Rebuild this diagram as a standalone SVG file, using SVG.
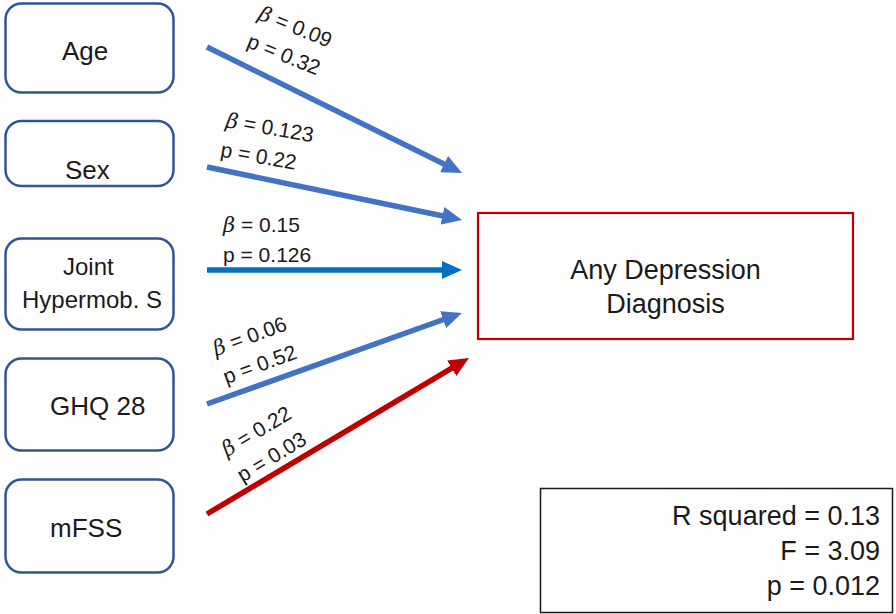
<svg xmlns="http://www.w3.org/2000/svg" width="896" height="614" viewBox="0 0 896 614">
  <style>
    .var { fill: #ffffff; stroke: #2F5597; stroke-width: 2.5; }
    .lbl { font-family: "Liberation Sans", Arial, sans-serif; fill: #1a1a1a; }
    .big { font-size: 26px; }
    .mid { font-size: 24px; }
    .fit { font-size: 27px; }
    .coef { font-family: "Liberation Sans", Arial, sans-serif; font-size: 21px; fill: #1a1a1a; }
    .beta { font-family: "DejaVu Serif", "Liberation Serif", serif; font-style: italic; }
    .edge { fill: none; stroke-width: 5.5; }
  </style>
  <defs>
    <marker id="headBlue" viewBox="0 0 20 18" refX="2" refY="9" markerWidth="20" markerHeight="18" markerUnits="userSpaceOnUse" orient="auto">
      <path d="M0,0 L20,9 L0,18 z" fill="#4472C4"/>
    </marker>
    <marker id="headSky" viewBox="0 0 20 18" refX="2" refY="9" markerWidth="20" markerHeight="18" markerUnits="userSpaceOnUse" orient="auto">
      <path d="M0,0 L20,9 L0,18 z" fill="#0070C0"/>
    </marker>
    <marker id="headRed" viewBox="0 0 20 18" refX="2" refY="9" markerWidth="20" markerHeight="18" markerUnits="userSpaceOnUse" orient="auto">
      <path d="M0,0 L20,9 L0,18 z" fill="#C00000"/>
    </marker>
  </defs>

  <!-- predictor nodes -->
  <g id="age">
    <rect class="var" x="5.5" y="3.5" width="168" height="89" rx="16"/>
    <text class="lbl big" x="62" y="60">Age</text>
  </g>
  <g id="sex">
    <rect class="var" x="5.5" y="121" width="168" height="65" rx="16"/>
    <text class="lbl big" x="65" y="179">Sex</text>
  </g>
  <g id="joint">
    <rect class="var" x="5.5" y="238.5" width="168" height="91" rx="16"/>
    <text class="lbl mid" x="63" y="275">Joint</text>
    <text class="lbl mid" x="22" y="308">Hypermob. S</text>
  </g>
  <g id="ghq">
    <rect class="var" x="5.5" y="358.5" width="168" height="92" rx="16"/>
    <text class="lbl big" x="50" y="415">GHQ 28</text>
  </g>
  <g id="mfss">
    <rect class="var" x="5.5" y="479.5" width="168" height="93" rx="16"/>
    <text class="lbl big" x="50" y="537">mFSS</text>
  </g>

  <!-- outcome node -->
  <g id="depression">
    <rect x="478" y="213" width="375" height="126" fill="#ffffff" stroke="#C00000" stroke-width="2.2"/>
    <text class="lbl" font-size="27" x="665.5" y="279" text-anchor="middle">Any Depression</text>
    <text class="lbl" font-size="27" x="665.5" y="313" text-anchor="middle">Diagnosis</text>
  </g>

  <!-- model fit summary -->
  <g id="model-fit">
    <rect x="540.5" y="488.5" width="352" height="124" fill="#ffffff" stroke="#1a1a1a" stroke-width="1.5"/>
    <text class="lbl fit" x="880" y="525" text-anchor="end">R squared = 0.13</text>
    <text class="lbl fit" x="880" y="560" text-anchor="end">F = 3.09</text>
    <text class="lbl fit" x="880" y="595" text-anchor="end">p = 0.012</text>
  </g>

  <!-- regression paths -->
  <g id="connectors">
    <line class="edge" x1="207" y1="47" x2="445.9" y2="165" stroke="#4472C4" marker-end="url(#headBlue)"/>
    <line class="edge" x1="207" y1="167" x2="444.4" y2="216.3" stroke="#4472C4" marker-end="url(#headBlue)"/>
    <line class="edge" x1="207" y1="270" x2="444" y2="270" stroke="#0070C0" marker-end="url(#headSky)"/>
    <line class="edge" x1="207" y1="404" x2="445" y2="319" stroke="#4472C4" marker-end="url(#headBlue)"/>
    <line class="edge" x1="207" y1="514" x2="453.5" y2="367.2" stroke="#C00000" marker-end="url(#headRed)"/>

    <!-- coefficient labels -->
    <g transform="translate(257,19) rotate(22)">
      <text class="coef" x="0" y="0"><tspan class="beta">β</tspan> = 0.09</text>
      <text class="coef" x="0" y="30">p = 0.32</text>
    </g>
    <g transform="translate(225,127) rotate(10)">
      <text class="coef" x="0" y="0"><tspan class="beta">β</tspan> = 0.123</text>
      <text class="coef" x="0" y="30">p = 0.22</text>
    </g>
    <g transform="translate(223,232)">
      <text class="coef" x="0" y="0"><tspan class="beta">β</tspan> = 0.15</text>
      <text class="coef" x="0" y="30">p = 0.126</text>
    </g>
    <g transform="translate(216,356) rotate(-20)">
      <text class="coef" x="0" y="0"><tspan class="beta">β</tspan> = 0.06</text>
      <text class="coef" x="0" y="30">p = 0.52</text>
    </g>
    <g transform="translate(227,457) rotate(-31)">
      <text class="coef" x="0" y="0"><tspan class="beta">β</tspan> = 0.22</text>
      <text class="coef" x="0" y="30">p = 0.03</text>
    </g>
  </g>
</svg>
